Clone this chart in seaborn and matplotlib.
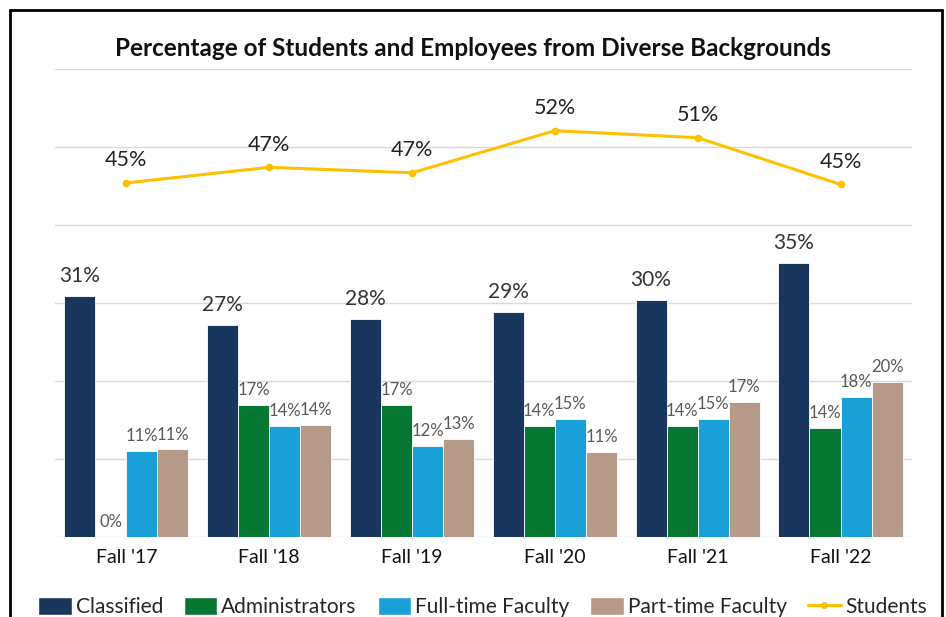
# Diverse backgrounds chart: students vs employee groups, Fall '17 to Fall '22

import matplotlib
matplotlib.use("Agg")
import matplotlib.pyplot as plt
from matplotlib.lines import Line2D
from matplotlib.patches import Patch
import seaborn as sns
import pandas as pd

# ================================ Data ================================
years = ["Fall '17", "Fall '18", "Fall '19", "Fall '20", "Fall '21", "Fall '22"]
classified = [30.9, 27.2, 28.0, 28.9, 30.4, 35.1]
administrators = [0.0, 16.9, 16.9, 14.2, 14.2, 13.9]
ft_faculty = [11.0, 14.2, 11.6, 15.1, 15.1, 17.9]
pt_faculty = [11.2, 14.3, 12.6, 10.9, 17.3, 19.9]
students = [45.4, 47.4, 46.7, 52.1, 51.2, 45.2]

groups = ["Classified", "Administrators", "Full-time Faculty", "Part-time Faculty"]
colors = ["#19365D", "#077734", "#18A0D7", "#B59A8A"]
line_color = "#FFC000"

# long-form table for seaborn
df = pd.DataFrame({"year": years, "Classified": classified, "Administrators": administrators,
                   "Full-time Faculty": ft_faculty, "Part-time Faculty": pt_faculty})
df = df.melt(id_vars="year", value_vars=groups, var_name="group", value_name="pct")

# ================================ Plot ================================
sns.set_style("white")
plt.rcParams["font.family"] = ["Lato", "DejaVu Sans"]

fig = plt.figure(figsize=(9.46, 6.17), dpi=100)
ax = fig.add_axes([0.058, 0.130, 0.906, 0.758])

sns.barplot(data=df, x="year", y="pct", hue="group", hue_order=groups, order=years,
            palette=colors, saturation=1, width=0.87, edgecolor="white", linewidth=0.6,
            legend=False, ax=ax)

# bar labels: big dark for Classified, smaller gray for the others
for i, cont in enumerate(ax.containers):
    vals = [f"{round(v)}%" for v in cont.datavalues]
    if i == 0:
        ax.bar_label(cont, labels=vals, padding=7, fontsize=15, color="#333333")
    else:
        ax.bar_label(cont, labels=vals, padding=5, fontsize=12, color="#595959")

# students line
xs = list(range(len(years)))
ax.plot(xs, students, color=line_color, lw=2.2, marker="o", ms=4.5, zorder=5)
for x, v in zip(xs, students):
    ax.annotate(f"{round(v)}%", (x, v), xytext=(0, 9), textcoords="offset points",
                ha="center", va="bottom", fontsize=15.5, color="#222222")

ax.set_ylim(0, 60)
ax.set_xlim(-0.5, len(years) - 0.5)
ax.set_yticks(range(0, 61, 10))
ax.set_yticklabels([])
ax.yaxis.grid(True, color="#D9D9D9", lw=1)
ax.set_axisbelow(True)
for s in ax.spines.values():
    s.set_visible(False)
ax.tick_params(axis="both", length=0)
ax.tick_params(axis="x", labelsize=14, pad=9, labelcolor="#111111")
ax.set_xlabel("")
ax.set_ylabel("")

fig.text(0.5, 0.922, "Percentage of Students and Employees from Diverse Backgrounds",
         ha="center", va="center", fontsize=17.5, fontweight="bold", color="#111111")

# legend at the bottom (partly cut like the screenshot)
handles = [Patch(facecolor=c, label=g) for c, g in zip(colors, groups)]
handles.append(Line2D([0], [0], color=line_color, lw=2.2, marker="o", ms=4, label="Students"))
fig.legend(handles=handles, loc="center", bbox_to_anchor=(0.51, 0.016), ncol=5,
           frameon=False, fontsize=15, handlelength=1.6, handleheight=0.9,
           handletextpad=0.2, columnspacing=1.0)

# screenshot frame
for xy in [([0.011, 0.011], [0.0, 0.984]), ([0.011, 0.996], [0.984, 0.984]),
           ([0.996, 0.996], [0.0, 0.984])]:
    fig.add_artist(Line2D(xy[0], xy[1], color="black", lw=2, transform=fig.transFigure))

fig.savefig("out.png", dpi=100)
